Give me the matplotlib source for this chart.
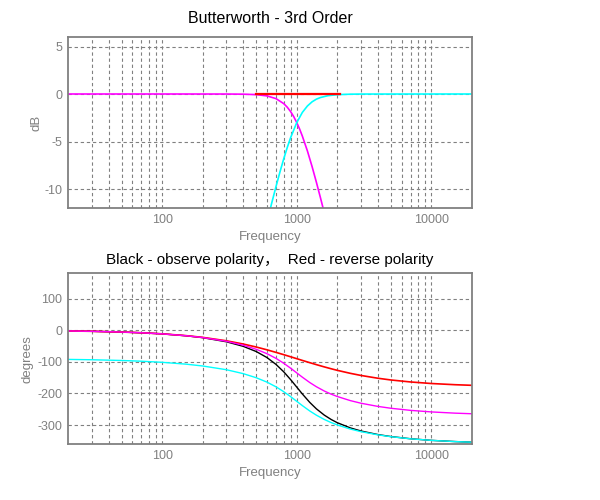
import numpy as np
import matplotlib
matplotlib.use("Agg")
import matplotlib.pyplot as plt
from matplotlib.ticker import FixedLocator, NullFormatter

plt.rcParams['font.family'] = ['Liberation Sans', 'Noto Sans CJK SC', 'DejaVu Sans']
plt.rcParams['axes.unicode_minus'] = False

# Data (3rd order Butterworth crossover, fc ~ 1 kHz)
# top panel - magnitude (dB)
lp_freq = [20, 100, 300, 400, 500, 600, 700, 800, 850, 900, 950, 1000, 1050,
           1100, 1200, 1300, 1400, 1500, 1600, 1700]
lp_db = [0, 0, -0.003, -0.018, -0.067, -0.198, -0.483, -1.01, -1.39, -1.85,
         -2.39, -3.01, -3.69, -4.43, -6.0, -7.65, -9.31, -10.93, -12.5, -14.0]

hp_freq = [600, 650, 700, 750, 800, 850, 900, 1000, 1100, 1200, 1300, 1400,
           1500, 1700, 2000, 2500, 3000, 20000]
hp_db = [-13.51, -11.54, -9.78, -8.21, -6.83, -5.63, -4.6, -3.01, -1.94, -1.26,
         -0.82, -0.54, -0.37, -0.18, -0.07, -0.02, -0.006, 0]

sum_freq = [500, 1000, 2100]
sum_db = [0, 0, 0]

# bottom panel - phase (degrees)
ph_freq = [20, 30, 50, 70, 100, 150, 200, 300, 400, 500, 600, 700, 800, 900,
           1000, 1100, 1250, 1400, 1600, 1800, 2000, 2500, 3000, 4000, 5000,
           7000, 10000, 15000, 20000]
ph_lp = [-2.3, -3.4, -5.7, -8.0, -11.5, -17.3, -23.1, -34.9, -47.3, -60.3,
         -74.1, -88.9, -104.4, -120.1, -135.0, -148.5, -165.6, -178.9, -192.3,
         -202.2, -209.7, -222.7, -231.0, -241.0, -246.9, -253.6, -258.5,
         -262.4, -264.3]
ph_hp = [-92.3, -93.4, -95.7, -98.0, -101.5, -107.3, -113.1, -124.9, -137.3,
         -150.3, -164.1, -178.9, -194.4, -210.1, -225.0, -238.5, -255.6,
         -268.9, -282.3, -292.2, -299.7, -312.7, -321.0, -331.0, -336.9,
         -343.6, -348.5, -352.4, -354.3]
ph_normal = [-2.3, -3.4, -5.7, -8.1, -11.5, -17.5, -23.5, -36.5, -50.9, -67.4,
             -86.3, -107.9, -131.5, -156.2, -180.0, -201.6, -228.5, -248.9,
             -268.5, -282.4, -292.6, -309.1, -318.9, -330.1, -336.5, -343.4,
             -348.5, -352.3, -354.3]
ph_reverse = [-2.3, -3.4, -5.7, -8.0, -11.4, -17.1, -22.6, -33.4, -43.6, -53.1,
              -61.9, -70.0, -77.3, -84.0, -90.0, -95.5, -102.7, -108.9, -116.0,
              -121.9, -126.9, -136.4, -143.1, -151.9, -157.4, -163.7, -168.6,
              -172.4, -174.3]

GRAY = "#808080"
minor_x = [30, 40, 50, 60, 70, 80, 90, 200, 300, 400, 500, 600, 700, 800, 900,
           2000, 3000, 4000, 5000, 6000, 7000, 8000, 9000]


def style_axes(ax, yticks, ylim, ylabel, label_x):
    ax.set_xscale("log")
    ax.set_xlim(20, 20000)
    ax.set_ylim(*ylim)
    ax.xaxis.set_major_locator(FixedLocator([100, 1000, 10000]))
    ax.xaxis.set_minor_locator(FixedLocator(minor_x))
    ax.xaxis.set_minor_formatter(NullFormatter())
    ax.set_xticklabels(["100", "1000", "10000"])
    ax.set_yticks(yticks)
    ax.set_yticklabels([str(v) for v in yticks])
    ax.grid(True, which="both", axis="x", color=GRAY, linestyle=(0, (3, 2.5)), lw=0.8)
    ax.grid(True, which="major", axis="y", color=GRAY, linestyle=(0, (3, 2.5)), lw=0.8)
    ax.tick_params(which="both", length=0, labelsize=9, labelcolor=GRAY, pad=4)
    for s in ax.spines.values():
        s.set_color(GRAY)
        s.set_linewidth(1.3)
    ax.set_xlabel("Frequency", color=GRAY, fontsize=9.5, labelpad=4)
    ax.set_ylabel(ylabel, color=GRAY, fontsize=9.5)
    ax.yaxis.set_label_coords(label_x, 0.5)


fig = plt.figure(figsize=(6, 5), dpi=100)
ax1 = fig.add_axes([0.1133, 0.584, 0.6733, 0.342])
ax2 = fig.add_axes([0.1133, 0.112, 0.6733, 0.3413])

ax1.plot(lp_freq, lp_db, color="#ff00ff", lw=1.2)
ax1.plot(hp_freq, hp_db, color="#00ffff", lw=1.2)
ax1.plot(sum_freq, sum_db, color="#ff0000", lw=1.6)
style_axes(ax1, [5, 0, -5, -10], (-12, 6), "dB", -0.062)
ax1.set_title("Butterworth - 3rd Order", fontsize=11.5, pad=10)

ax2.plot(ph_freq, ph_normal, color="black", lw=1.0)
ax2.plot(ph_freq, ph_reverse, color="#ff0000", lw=1.2)
ax2.plot(ph_freq, ph_lp, color="#ff00ff", lw=1.0)
ax2.plot(ph_freq, ph_hp, color="#00ffff", lw=1.0)
style_axes(ax2, [100, 0, -100, -200, -300], (-360, 180), "degrees", -0.085)
ax2.set_title("Black - observe polarity，  Red - reverse polarity", fontsize=11, pad=7)

fig.savefig("out.png", dpi=100)
